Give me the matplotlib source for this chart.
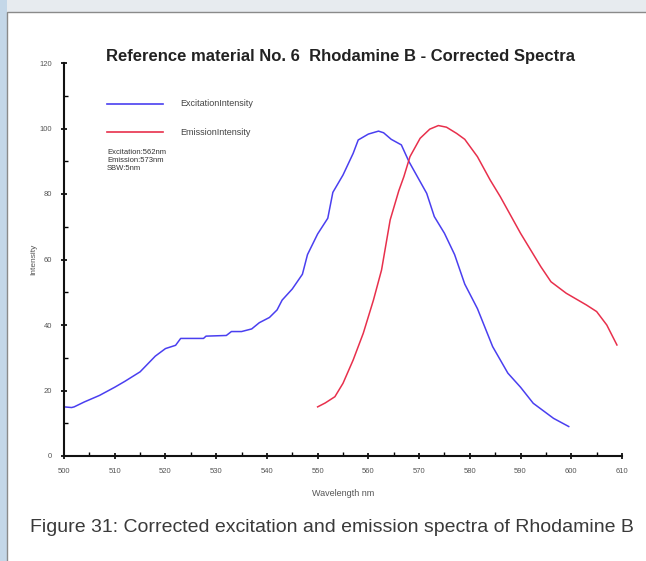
import matplotlib
matplotlib.use("Agg")
import matplotlib.pyplot as plt
from matplotlib.patches import Rectangle
from matplotlib.ticker import MultipleLocator

# Rhodamine B corrected spectra (wavelength in nm, relative intensity)
exc_wl = [500, 501.5, 502, 504, 507, 510, 512, 515, 518, 520, 522, 523,
          527.5, 528, 532, 533, 535, 537, 538.5, 540.5, 542, 543, 545, 547,
          548, 550, 552, 553, 555, 557, 558, 560, 562, 563, 564.5, 566.5,
          568, 571.5, 573, 575, 577, 579, 581.5, 584.5, 587.5, 590, 592.5,
          596.5, 599.5]
exc_int = [15, 14.8, 15, 16.5, 18.5, 21, 22.8, 25.7, 30.5, 32.8, 33.8, 35.9,
           35.9, 36.6, 36.8, 38, 38, 38.8, 40.7, 42.3, 44.6, 47.6, 51, 55.5,
           61.5, 67.8, 72.6, 80.5, 85.8, 92.4, 96.5, 98.3, 99.2, 98.7, 96.7,
           95, 89.9, 80.2, 73.1, 68, 61.5, 52.5, 45, 33.4, 25.3, 21, 16.1,
           11.5, 9.0]

em_wl = [550, 551.5, 553.4, 555, 557, 559, 561, 562.6, 564.3, 566, 567,
         568.2, 570.2, 572.1, 573.8, 575.4, 577.4, 579, 581.5, 584, 586, 590,
         594, 596, 599, 603, 605, 607, 609]
em_int = [15, 16.2, 18.1, 22.2, 29.3, 37.5, 47.6, 56.8, 72.1, 81, 85.3,
          91.4, 97, 99.8, 100.9, 100.4, 98.5, 96.7, 91.4, 84.3, 79.2, 68,
          57.8, 53.2, 49.7, 46.1, 44.1, 40, 33.9]

x_ticks = list(range(500, 611, 10))
y_ticks = list(range(0, 121, 20))

title = "Reference material No. 6  Rhodamine B - Corrected Spectra"
caption = "Figure 31: Corrected excitation and emission spectra of Rhodamine B"
info = "Excitation:562nm\nEmission:573nm\nSBW:5nm"

plt.rcParams["font.family"] = ["Liberation Sans", "DejaVu Sans"]

W, H = 646, 561
fig = plt.figure(figsize=(W / 100, H / 100), dpi=100)
fig.patch.set_facecolor("#e7ebef")

# page background: pale blue strip on the left, white panel with grey frame
fig.patches.append(Rectangle((0, 0), 7 / W, 1, transform=fig.transFigure,
                             facecolor="#c4d7e8", edgecolor="none", zorder=-2))
fig.patches.append(Rectangle((7 / W, -0.01), 1, 1 - 11.5 / H + 0.01,
                             transform=fig.transFigure, facecolor="white",
                             edgecolor="#8a8a8a", linewidth=1.0, zorder=-1))

ax = fig.add_axes([64 / W, 1 - 456 / H, (622 - 64) / W, (456 - 63) / H])
ax.set_facecolor("none")
ax.set_zorder(2)

ax.plot(exc_wl, exc_int, color="#4a3ff0", linewidth=1.1)
ax.plot(em_wl, em_int, color="#e8304c", linewidth=1.1)

ax.set_xlim(500, 610)
ax.set_ylim(0, 120)
ax.set_xticks(x_ticks)
ax.set_yticks(y_ticks)
ax.xaxis.set_minor_locator(MultipleLocator(5))
ax.yaxis.set_minor_locator(MultipleLocator(10))

for side in ("top", "right"):
    ax.spines[side].set_visible(False)
for side in ("left", "bottom"):
    ax.spines[side].set_linewidth(1.5)
    ax.spines[side].set_color("#111111")

ax.tick_params(axis="both", which="major", direction="inout", length=5,
               width=1.2, labelsize=5.5, labelcolor="#555555", pad=6)
ax.tick_params(axis="both", which="minor", direction="in", length=3,
               width=1.0)

ax.set_xlabel("Wavelength nm", fontsize=6.5, color="#555555", labelpad=10)
ax.set_ylabel("Intensity", fontsize=6, color="#555555", labelpad=2)

fig.text(341 / W, 1 - 57 / H, title, fontsize=12, fontweight="bold",
         color="#222222", ha="center", va="center")

# hand-placed legend entries
for y_px, color, label in ((104, "#4a3ff0", "ExcitationIntensity"),
                           (132, "#e8304c", "EmissionIntensity")):
    fig.lines.append(plt.Line2D([107 / W, 163 / W], [1 - y_px / H] * 2,
                                transform=fig.transFigure, color=color,
                                linewidth=1.2))
    fig.text(180 / W, 1 - y_px / H, label, fontsize=6.5, color="#444444",
             ha="left", va="center")

fig.text(107 / W, 1 - 149 / H, info, fontsize=5.5, color="#333333",
         ha="left", va="top", linespacing=1.15)

fig.text(332 / W, 1 - 527 / H, caption, fontsize=14, color="#3a3a3a",
         ha="center", va="center")

fig.savefig("out.png", dpi=100, facecolor=fig.get_facecolor())
